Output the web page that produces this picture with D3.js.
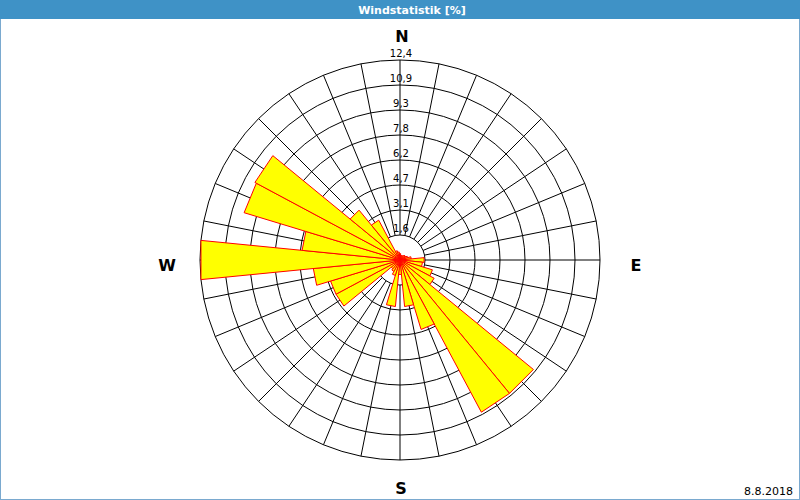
<!DOCTYPE html>
<html>
<head>
<meta charset="utf-8">
<script src="https://cdn.jsdelivr.net/npm/d3@7"></script>
<style>
html,body{margin:0;padding:0;background:#fff;}
svg{display:block;}
</style>
</head>
<body>
<script>
// ---- data ----
const title = "Windstatistik [%]";
const dateLabel = "8.8.2018";
const directions = ["N","NzO","NNO","NOzN","NO","NOzO","ONO","OzN","E","OzS","OSO","SOzO","SO","SOzS","SSO","SzO",
                    "S","SzW","SSW","SWzS","SW","SWzW","WSW","WzS","W","WzN","WNW","NWzW","NW","NWzN","NNW","NzW"];
const frequencies = [0.4,0.3,0.3,0.3,0.4,0.4,0.5,0.7,1.5,1.4,2.1,2.4,10.7,10.7,4.5,2.9,
                     0.9,2.9,1.0,0.8,0.7,4.5,4.5,5.4,12.4,6.1,10.1,10.2,4.0,2.8,0.6,0.5];
const ringValues = [1.55,3.1,4.65,6.2,7.75,9.3,10.85,12.4];
const ringLabels = ["1,6","3,1","4,7","6,2","7,8","9,3","10,9","12,4"];
const compassLabels = ["N","E","S","W"];
const compassAngles = [0,90,180,270];

// ---- layout ----
const W = 800, H = 500;
const cx = 400, cy = 260, R = 200;
const svg = d3.select("body").append("svg").attr("width", W).attr("height", H);

svg.append("rect").attr("x",0.5).attr("y",0.5).attr("width",W-1).attr("height",H-1)
  .attr("fill","#fff").attr("stroke","#7aa9cf");
svg.append("rect").attr("x",0).attr("y",0).attr("width",W).attr("height",19).attr("fill","#3f92c6");
svg.append("text").attr("x",412).attr("y",14).attr("text-anchor","middle")
  .attr("font-family","DejaVu Sans, Verdana, sans-serif").attr("font-size","11px").attr("font-weight","bold")
  .attr("fill","#fff").text(title);

const r = d3.scaleLinear().domain([0, 12.4]).range([0, R]);
const step = 360 / directions.length;
const ang = d3.scaleLinear().domain([0, directions.length]).range([0, 360]);
const pt = (deg, rad) => {
  const a = deg * Math.PI / 180;
  return [cx + rad * Math.sin(a), cy - rad * Math.cos(a)];
};

const g = svg.append("g");
// rings
g.selectAll("circle.ring").data(ringValues).join("circle").attr("class","ring")
  .attr("cx",cx).attr("cy",cy).attr("r",d=>r(d))
  .attr("fill","none").attr("stroke","#000").attr("stroke-width",1);
// spokes
g.selectAll("line.spoke").data(directions).join("line").attr("class","spoke")
  .attr("x1",(d,i)=>pt(ang(i), r(ringValues[0]))[0]).attr("y1",(d,i)=>pt(ang(i), r(ringValues[0]))[1])
  .attr("x2",(d,i)=>pt(ang(i), R)[0]).attr("y2",(d,i)=>pt(ang(i), R)[1])
  .attr("stroke","#000").attr("stroke-width",1);

// bars
const line = d3.line();
g.selectAll("path.bar").data(frequencies).join("path").attr("class","bar")
  .attr("d",(d,i)=>{
    const a = ang(i), rr = r(d);
    return line([[cx,cy], pt(a-step/2, rr), pt(a+step/2, rr)]) + "Z";
  })
  .attr("fill","#ffff00").attr("stroke","#ff0000").attr("stroke-width",1).attr("stroke-linejoin","miter");

// ring labels
g.selectAll("text.rl").data(ringValues).join("text").attr("class","rl")
  .attr("x",cx+1).attr("y",d=>cy - r(d) - 3).attr("text-anchor","middle")
  .attr("font-family","DejaVu Sans, Verdana, sans-serif").attr("font-size","10px").attr("fill","#000")
  .text((d,i)=>ringLabels[i]);

// compass labels
const compassPos = {N:[402,42], E:[636,271], S:[401,494], W:[167,271]};
svg.selectAll("text.cl").data(compassLabels).join("text").attr("class","cl")
  .attr("x",d=>compassPos[d][0]).attr("y",d=>compassPos[d][1]).attr("text-anchor","middle")
  .attr("font-family","DejaVu Sans, Verdana, sans-serif").attr("font-size","16px").attr("font-weight","bold")
  .attr("fill","#000").text(d=>d);

svg.append("text").attr("x",793).attr("y",495).attr("text-anchor","end")
  .attr("font-family","DejaVu Sans, Verdana, sans-serif").attr("font-size","11px").attr("fill","#000")
  .text(dateLabel);
</script>
</body>
</html>
